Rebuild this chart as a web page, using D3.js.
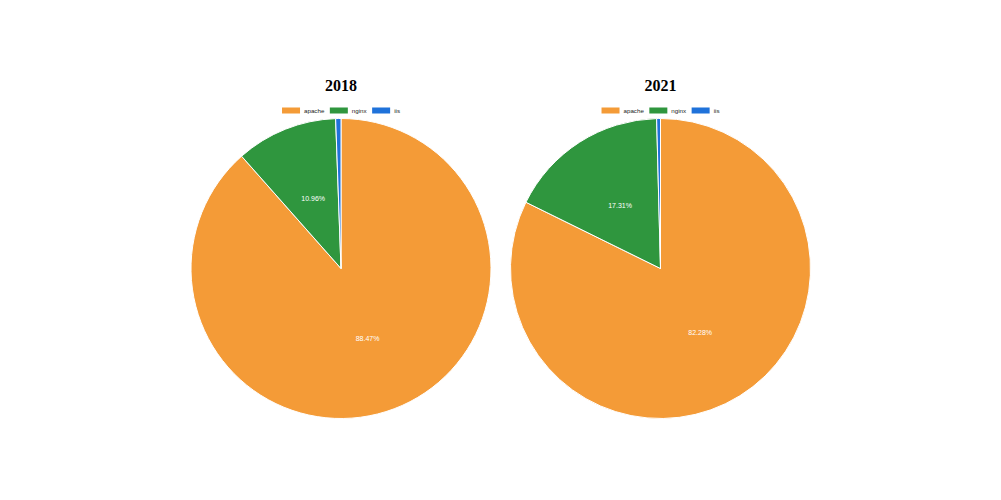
<!DOCTYPE html>
<html>
<head>
<meta charset="utf-8">
<script src="https://cdn.jsdelivr.net/npm/d3@7"></script>
<style>
    body { margin: 0; background: #ffffff; }
</style>
</head>
<body>
<div id="chart"></div>
<script>
let width = 1001;
let height = 500;
let radius = 150;

let categories = ["apache", "nginx", "iis"];
let years = ["2018", "2021"];
let values2018 = [88.47, 10.96, 0.57];
let values2021 = [82.28, 17.31, 0.41];
let colors = ["#f49b37", "#2f963e", "#1f72da"];

let centersX = [341, 660.5];
let centerY = 268.5;

const svg = d3.select("#chart")
    .append("svg")
    .attr("width", width)
    .attr("height", height);

let color = d3.scaleOrdinal().domain(categories).range(colors);

let pie = d3.pie().sort(null).value(d => d.value);
let arc = d3.arc().innerRadius(0).outerRadius(radius);
let labelArc = d3.arc().innerRadius(radius * 0.5).outerRadius(radius * 0.5);

function drawPie(year, values, cx) {
    let data = categories.map((c, i) => ({ name: c, value: values[i] }));
    let total = d3.sum(values);

    let g = svg.append("g");

    // title
    g.append("text")
        .attr("x", cx)
        .attr("y", 91)
        .attr("text-anchor", "middle")
        .attr("font-family", "Liberation Serif, Times New Roman, serif")
        .attr("font-weight", "bold")
        .attr("font-size", 16)
        .text(year);

    // legend: lay out items, then center the whole row over the pie
    let legend = g.append("g");
    let lx = 0;
    categories.forEach(c => {
        legend.append("rect")
            .attr("x", lx)
            .attr("y", 107.5)
            .attr("width", 18)
            .attr("height", 6)
            .attr("fill", color(c));
        let t = legend.append("text")
            .attr("x", lx + 22)
            .attr("y", 113)
            .attr("font-family", "Liberation Sans, Arial, sans-serif")
            .attr("font-size", 6.2)
            .attr("fill", "#222222")
            .text(c);
        lx += 22 + t.node().getComputedTextLength() + 5.5;
    });
    let legendWidth = lx - 5.5;
    legend.attr("transform", `translate(${cx - legendWidth / 2},0)`);

    let pieG = g.append("g").attr("transform", `translate(${cx},${centerY})`);
    let arcs = pie(data);

    pieG.selectAll("path")
        .data(arcs)
        .join("path")
        .attr("d", arc)
        .attr("fill", d => color(d.data.name))
        .attr("stroke", "#ffffff")
        .attr("stroke-width", 1);

    pieG.selectAll("text")
        .data(arcs.filter(d => d.data.value / total > 0.05))
        .join("text")
        .attr("transform", d => `translate(${labelArc.centroid(d)})`)
        .attr("text-anchor", "middle")
        .attr("dy", "0.35em")
        .attr("font-family", "Liberation Sans, Arial, sans-serif")
        .attr("font-size", 7)
        .attr("fill", "#ffffff")
        .text(d => d3.format(".2f")(d.data.value / total * 100) + "%");
}

drawPie(years[0], values2018, centersX[0]);
drawPie(years[1], values2021, centersX[1]);
</script>
</body>
</html>
